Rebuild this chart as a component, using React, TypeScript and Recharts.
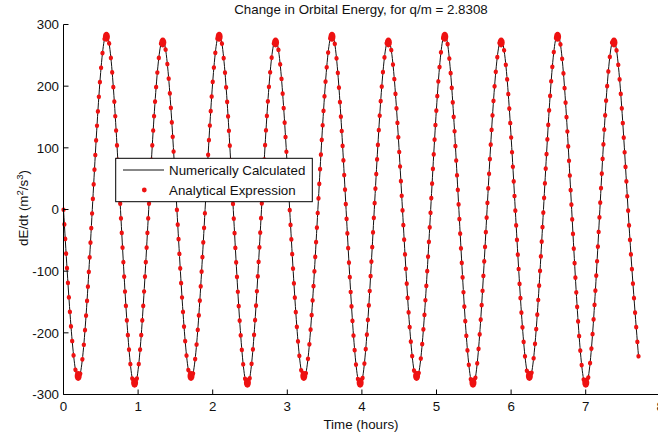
import { Line, LineChart, XAxis, YAxis } from "recharts";

// node times (hours): start, every extremum and zero crossing, last sample
const hours = [
  0, 0.197, 0.386, 0.575, 0.764, 0.953, 1.142, 1.331, 1.52, 1.709, 1.898, 2.087, 2.276, 2.465,
  2.654, 2.843, 3.032, 3.221, 3.41, 3.599, 3.788, 3.977, 4.166, 4.355, 4.544, 4.733, 4.922,
  5.111, 5.3, 5.489, 5.678, 5.867, 6.056, 6.245, 6.434, 6.623, 6.812, 7.001, 7.19, 7.379,
  7.568, 7.71,
];
const numerical = [
  0, -274, 0, 284, 0, -285, 0, 275, 0, -274, 0, 284, 0, -285, 0, 275, 0, -274, 0, 284, 0,
  -285, 0, 275, 0, -274, 0, 284, 0, -285, 0, 275, 0, -274, 0, 284, 0, -285, 0, 275, 0, -241,
];
// the analytical samples sit on top of the numerical curve
const analytical = [
  0, -274, 0, 284, 0, -285, 0, 275, 0, -274, 0, 284, 0, -285, 0, 275, 0, -274, 0, 284, 0,
  -285, 0, 275, 0, -274, 0, 284, 0, -285, 0, 275, 0, -274, 0, 284, 0, -285, 0, 275, 0, -241,
];
const xTicks = [0, 1, 2, 3, 4, 5, 6, 7, 8];
const yTicks = [-300, -200, -100, 0, 100, 200, 300];

const data = hours.map((t, i) => ({ t, numerical: numerical[i], analytical: analytical[i] }));

const font = '"Liberation Sans", Arial, sans-serif';
const red = "#ee1111";
const tickStyle = { fontSize: 13.33, fill: "#111", fontFamily: font };

// samples bunch up at the turning points, so draw a small red cluster there
function PeakDot(props: any) {
  const { cx, cy, index, payload } = props;
  const v = payload.analytical;
  if (cx == null || Math.abs(v) < 260) return <g key={index} />;
  const s = v > 0 ? 1 : -1;
  return <ellipse key={index} cx={cx} cy={cy + s * 2.5} rx={3.5} ry={5} fill={red} />;
}

export default function App() {
  return (
    <div style={{ position: "fixed", left: 0, top: 0, width: 658, height: 439, overflow: "hidden", background: "#fff" }}>
      <LineChart width={680} height={439} data={data} margin={{ top: 24.5, right: 19.7, bottom: 14.5, left: 0 }}>
        <XAxis xAxisId="b" dataKey="t" type="number" domain={[0, 8]} ticks={xTicks} height={30}
          tickSize={-5} tickMargin={12.5} tick={tickStyle} stroke="#000" />
        <XAxis xAxisId="t" orientation="top" dataKey="t" type="number" domain={[0, 8]} ticks={xTicks}
          height={0} tickSize={-5} tick={false} stroke="#000" />
        <YAxis yAxisId="l" type="number" domain={[-300, 300]} ticks={yTicks} width={63.5}
          tickSize={-5} tickMargin={9.5} tick={tickStyle} stroke="#000" />
        <YAxis yAxisId="r" orientation="right" type="number" domain={[-300, 300]} ticks={yTicks}
          width={0} tickSize={-5} tick={false} stroke="#000" />
        <Line xAxisId="b" yAxisId="l" type="natural" dataKey="numerical" stroke="#111" strokeWidth={1}
          dot={false} activeDot={false} isAnimationActive={false} />
        <Line xAxisId="b" yAxisId="l" type="natural" dataKey="analytical" stroke={red} strokeWidth={4.2}
          strokeDasharray="0.5 14.1" strokeLinecap="round" dot={PeakDot} activeDot={false}
          isAnimationActive={false} />
      </LineChart>
      <svg width={658} height={439} style={{ position: "absolute", left: 0, top: 0, pointerEvents: "none" }}
        fontFamily={font} fontSize={13.33} fill="#111">
        <text x={361} y={13.5} textAnchor="middle">Change in Orbital Energy, for q/m = 2.8308</text>
        <text x={361} y={429} textAnchor="middle">Time (hours)</text>
        <text transform="translate(27.5,208) rotate(-90)" textAnchor="middle">
          dE/dt (m<tspan dy={-5} fontSize={9.5}>2</tspan>
          <tspan dy={5}>/s</tspan>
          <tspan dy={-5} fontSize={9.5}>3</tspan>
          <tspan dy={5}>)</tspan>
        </text>
        <rect x={115.7} y={158.3} width={196.6} height={43.4} fill="#fff" stroke="#000" strokeWidth={1} />
        <line x1={123} x2={164} y1={170} y2={170} stroke="#111" strokeWidth={1} />
        <circle cx={144.3} cy={190} r={2.4} fill={red} />
        <text x={169} y={175}>Numerically Calculated</text>
        <text x={169} y={195}>Analytical Expression</text>
      </svg>
    </div>
  );
}
